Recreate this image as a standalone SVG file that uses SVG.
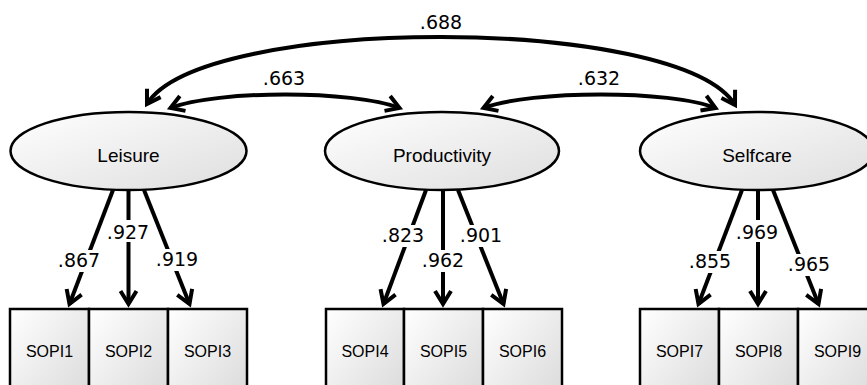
<svg xmlns="http://www.w3.org/2000/svg" width="867" height="385" viewBox="0 0 867 385">
<defs>
<linearGradient id="gE" x1="0" y1="0" x2="1" y2="1">
<stop offset="0" stop-color="#ffffff"/>
<stop offset="1" stop-color="#dedede"/>
</linearGradient>
<linearGradient id="gB" x1="0" y1="0" x2="1" y2="1">
<stop offset="0" stop-color="#ffffff"/>
<stop offset="1" stop-color="#d8d8d8"/>
</linearGradient>
<marker id="ah" markerUnits="userSpaceOnUse" viewBox="-20 -15 30 30" refX="0" refY="0" markerWidth="30" markerHeight="30" orient="auto-start-reverse" overflow="visible">
<path d="M-13,-8 L0,0 L-13,8" fill="none" stroke="#000" stroke-width="4" stroke-linejoin="miter" stroke-miterlimit="10"/>
</marker>
</defs>
<style>
.lat{fill:url(#gE);stroke:#000;stroke-width:2.5}
.box{fill:url(#gB);stroke:#000;stroke-width:2.5}
.nt{font-family:"Liberation Sans",Arial,sans-serif;font-size:19px;text-anchor:middle;fill:#000}
.bt{font-family:"Liberation Sans",Arial,sans-serif;font-size:16px;text-anchor:middle;fill:#000}
.ln{fill:none;stroke:#000;stroke-width:4;marker-end:url(#ah)}
.cv{fill:none;stroke:#000;stroke-width:4;marker-start:url(#ah);marker-end:url(#ah)}
.lb{font-family:"DejaVu Sans",Verdana,sans-serif;font-size:19px;text-anchor:middle;fill:#000}
.bg{fill:#fff}
</style>
<rect x="0" y="0" width="867" height="385" fill="#fff"/>

<g id="Leisure"><ellipse class="lat" cx="128.5" cy="151" rx="118" ry="39"/><text class="nt" x="128.5" y="162">Leisure</text></g>
<g id="Productivity"><ellipse class="lat" cx="442" cy="151" rx="117" ry="39"/><text class="nt" x="442" y="162">Productivity</text></g>
<g id="Selfcare"><ellipse class="lat" cx="757" cy="151" rx="117" ry="39"/><text class="nt" x="757" y="162">Selfcare</text></g>

<g id="SOPI1"><rect class="box" x="10" y="309" width="79" height="100"/><text class="bt" x="49.5" y="357">SOPI1</text></g>
<g id="SOPI2"><rect class="box" x="89" y="309" width="79" height="100"/><text class="bt" x="128.5" y="357">SOPI2</text></g>
<g id="SOPI3"><rect class="box" x="168" y="309" width="79" height="100"/><text class="bt" x="207.5" y="357">SOPI3</text></g>
<g id="SOPI4"><rect class="box" x="326" y="309" width="78" height="100"/><text class="bt" x="365" y="357">SOPI4</text></g>
<g id="SOPI5"><rect class="box" x="404" y="309" width="79" height="100"/><text class="bt" x="443.5" y="357">SOPI5</text></g>
<g id="SOPI6"><rect class="box" x="483" y="309" width="79" height="100"/><text class="bt" x="522.5" y="357">SOPI6</text></g>
<g id="SOPI7"><rect class="box" x="640" y="309" width="79" height="100"/><text class="bt" x="679.5" y="357">SOPI7</text></g>
<g id="SOPI8"><rect class="box" x="719" y="309" width="79" height="100"/><text class="bt" x="758.5" y="357">SOPI8</text></g>
<g id="SOPI9"><rect class="box" x="798" y="309" width="79" height="100"/><text class="bt" x="837.5" y="357">SOPI9</text></g>

<g id="connectors">
<path class="cv" d="M147,104 C202,14.5 680,14.5 735,105"/>
<path class="cv" d="M170.5,108 C218,90 352,90 399.5,108"/>
<path class="cv" d="M483.5,108 C531,90 671,90 715.5,108"/>

<path class="ln" d="M113,190 L69.5,304"/>
<path class="ln" d="M128.5,190 L128.5,304"/>
<path class="ln" d="M144,190 L189.5,304"/>
<path class="ln" d="M426,190 L383.5,304"/>
<path class="ln" d="M443,190 L443,304"/>
<path class="ln" d="M458,190 L503.5,304"/>
<path class="ln" d="M742,190 L698.5,304"/>
<path class="ln" d="M758,190 L758,304"/>
<path class="ln" d="M773,190 L818.5,304"/>

<rect class="bg" x="418" y="11" width="46" height="20"/><text class="lb" x="441" y="29">.688</text>
<rect class="bg" x="261" y="70" width="46" height="18"/><text class="lb" x="284" y="85">.663</text>
<rect class="bg" x="576" y="70" width="46" height="18"/><text class="lb" x="599" y="85">.632</text>

<rect class="bg" x="56" y="250" width="46" height="22"/><text class="lb" x="79" y="267">.867</text>
<rect class="bg" x="105" y="220" width="46" height="22"/><text class="lb" x="128" y="239">.927</text>
<rect class="bg" x="154" y="249" width="46" height="22"/><text class="lb" x="177" y="266">.919</text>

<rect class="bg" x="380" y="225" width="46" height="22"/><text class="lb" x="403" y="242">.823</text>
<rect class="bg" x="420" y="250" width="46" height="22"/><text class="lb" x="443" y="267">.962</text>
<rect class="bg" x="458" y="225" width="46" height="22"/><text class="lb" x="481" y="242">.901</text>

<rect class="bg" x="687" y="251" width="46" height="22"/><text class="lb" x="710" y="268">.855</text>
<rect class="bg" x="734" y="220" width="46" height="22"/><text class="lb" x="757" y="239">.969</text>
<rect class="bg" x="786" y="254" width="46" height="22"/><text class="lb" x="809" y="271">.965</text>
</g>
</svg>
